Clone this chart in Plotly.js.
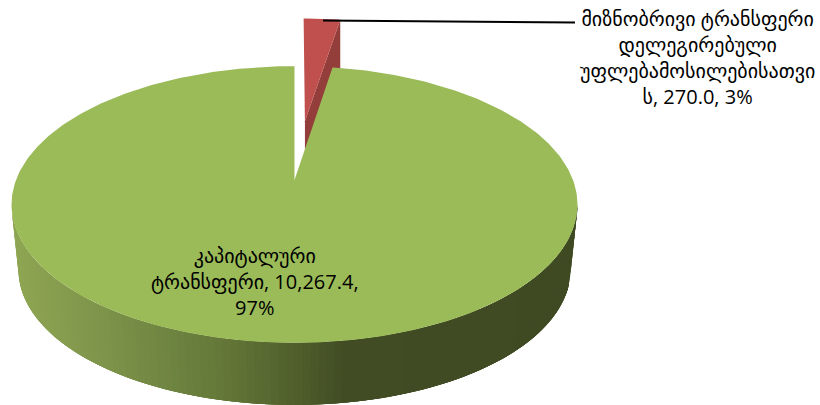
<!DOCTYPE html>
<html><head><meta charset="utf-8">
<script src="https://cdn.plot.ly/plotly-3.0.1.min.js"></script>
<style>html,body{margin:0;padding:0;background:#fff}</style></head>
<body><div id="chart" style="width:820px;height:405px"></div>
<script>
// ---- data ----
const categoryLines = [
  ["კაპიტალური", "ტრანსფერი,"],
  ["მიზნობრივი ტრანსფერი", "დელეგირებული", "უფლებამოსილებისათვი", "ს,"]
];
const values = [10267.4, 270.0];
// ---- styles ----
const topColors = ["#9bbb59", "#c0504d"];
const cutColor = "#943e3b";
const sideStops = [[11,"#8fa653"],[100,"#7e944a"],[160,"#708642"],[230,"#627537"],[295,"#505f2c"],[345,"#414c24"],[577,"#3f4a23"]];
const labelFont = {family: '"Open Sans","DejaVu Sans",sans-serif', size: 20, color: "#000"};
// ---- projection of the tilted disc ----
const cx = 294.5, cy = 180, A = 278.5, B = 134, K = 0.177;
const project = (X, Y, k = K) => { const w = 1 + k * Y; return [cx + A * X / w, cy - B * Y / w]; };
const total = values[0] + values[1];
const redSweep = 2 * Math.PI * values[1] / total;

function sector(a0, a1, ox, oy, k) {
  const pts = [project(ox, oy, k)];
  const n = Math.max(4, Math.round((a1 - a0) * 60));
  for (let i = 0; i <= n; i++) {
    const a = a0 + (a1 - a0) * i / n;
    pts.push(project(ox + Math.sin(a), oy + Math.cos(a), k));
  }
  pts.push(pts[0]);
  return pts;
}
function poly(pts, color, lw) {
  return {type: "scatter", mode: "lines", x: pts.map(p => p[0]), y: pts.map(p => p[1]),
    fill: "toself", fillcolor: color, line: {color: color, width: lw === undefined ? 0 : lw},
    hoverinfo: "skip", showlegend: false};
}
function hex(c){return [1,3,5].map(i=>parseInt(c.substr(i,2),16));}
function sideColor(x) {
  for (let i = 1; i < sideStops.length; i++) {
    if (x <= sideStops[i][0]) {
      const [x0,c0] = sideStops[i-1], [x1,c1] = sideStops[i];
      const t = Math.max(0,(x - x0) / (x1 - x0)); const a = hex(c0), b = hex(c1);
      return "rgb(" + a.map((v,j)=>Math.round(v+(b[j]-v)*t)).join(",") + ")";
    }
  }
  return sideStops[sideStops.length-1][1];
}
const traces = [];
// exploded slice
const redK = 0.15, ox = 0.04, oy = 0.47, dropApex = 29, dropRim = 48;
const redFace = sector(0, redSweep, ox, oy, redK);
const apex = redFace[0], rim = redFace[redFace.length - 2];
traces.push(poly([apex, rim, [rim[0], rim[1] + dropRim], [apex[0], apex[1] + dropApex], apex], cutColor));
traces.push(poly(redFace, topColors[1]));
// side wall of the large slice: overlapping bands painted left to right, so no seams show
const tc = 205, tr = 283, tv = 138, bc = 270, br = 276, bv = 135;
const N = 110, overlap = 4;
for (let i = 0; i < N; i++) {
  const p = (r, c, v, t) => [cx + r * Math.cos(t), c + v * Math.sin(t)];
  const top = [], bot = [];
  for (let j = i; j <= Math.min(N, i + overlap); j++) {
    const t = Math.PI * (1 - j / N);
    top.push(p(tr,tc,tv,t));
    bot.unshift(p(br,bc,bv,t));
  }
  const q = top.concat(bot);
  q.push(q[0]);
  const next = Math.PI * (1 - (i + 1) / N);
  traces.push(poly(q, sideColor((q[0][0] + p(tr,tc,tv,next)[0]) / 2)));
}
// top of the large slice
traces.push(poly(sector(redSweep, 2 * Math.PI, 0, 0, K), topColors[0]));
// leader line
traces.push({type:"scatter",mode:"lines",x:[323,575],y:[20.5,22.5],line:{color:"#000",width:2},hoverinfo:"skip",showlegend:false});

const fmt = v => v.toLocaleString("en-US",{minimumFractionDigits:1,maximumFractionDigits:1});
const pct = v => Math.round(100 * v / total) + "%";
const layout = {
  width: 820, height: 405, margin: {l:0,r:0,t:0,b:0}, paper_bgcolor:"#fff", plot_bgcolor:"#fff", showlegend:false,
  xaxis:{range:[0,820],visible:false,fixedrange:true},
  yaxis:{range:[405,0],visible:false,fixedrange:true},
  annotations:[
    {x:255,y:281,xref:"x",yref:"y",showarrow:false,align:"center",font:labelFont,
     text: categoryLines[0][0]+"<br>"+categoryLines[0][1]+" "+fmt(values[0])+",<br>"+pct(values[0])},
    {x:697,y:57,xref:"x",yref:"y",showarrow:false,align:"center",font:labelFont,
     text: categoryLines[1].slice(0,3).join("<br>")+"<br>"+categoryLines[1][3]+" "+fmt(values[1])+", "+pct(values[1])}
  ]
};
Plotly.newPlot("chart", traces, layout, {displayModeBar:false, staticPlot:true});
</script></body></html>
